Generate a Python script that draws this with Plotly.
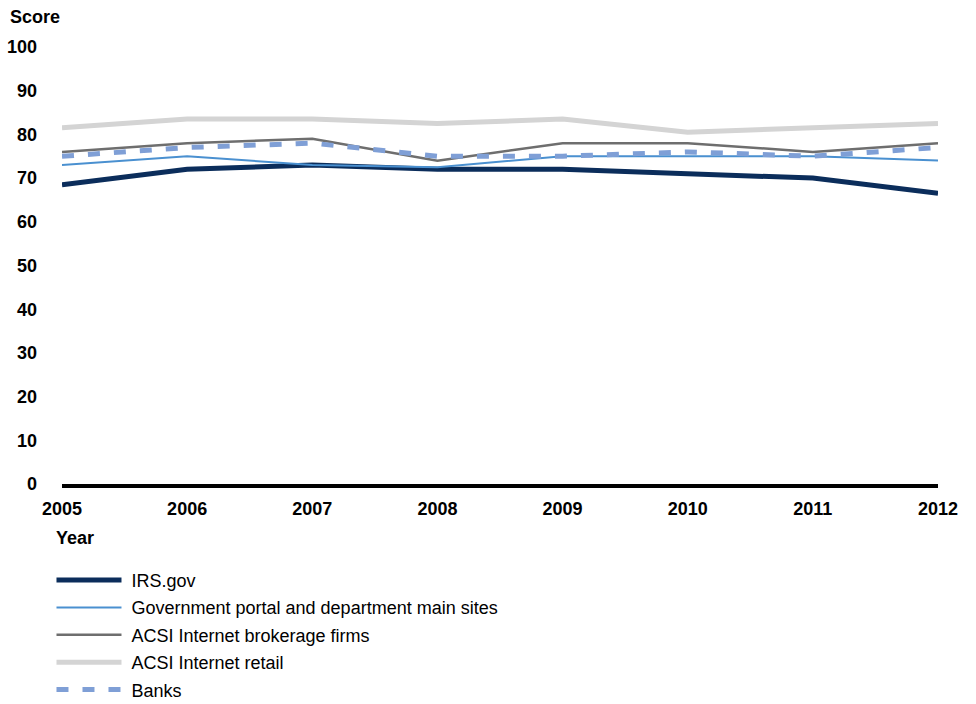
import plotly.graph_objects as go

years = [2005, 2006, 2007, 2008, 2009, 2010, 2011, 2012]
irs_gov = [68.5, 72, 73, 72, 72, 71, 70, 66.5]
gov_portal = [73, 75, 73, 72.5, 75, 75, 75, 74]
brokerage = [76, 78, 79, 74, 78, 78, 76, 78]
retail = [81.5, 83.5, 83.5, 82.5, 83.5, 80.5, 81.5, 82.5]
banks = [75, 77, 78, 75, 75, 76, 75, 77]

series = [
    ("IRS.gov", irs_gov, "#0b2d5b", 5, "solid"),
    ("Government portal and department main sites", gov_portal, "#4a90d0", 2, "solid"),
    ("ACSI Internet brokerage firms", brokerage, "#6e6e6e", 2.5, "solid"),
    ("ACSI Internet retail", retail, "#d4d4d4", 5, "solid"),
    ("Banks", banks, "#7f9fd6", 5, "12px,14px"),
]

W, H = 976, 704
L, R, T, B = 62, 38, 47, 220

fig = go.Figure()
for i, (name, vals, color, width, dash) in enumerate(series):
    fig.add_trace(go.Scatter(
        x=years, y=vals, mode="lines", name="&nbsp;" + name, legendgroup=f"g{i}",
        line=dict(color=color, width=width, dash=dash),
    ))

font = "Liberation Sans, Arial, sans-serif"
fig.update_layout(
    width=W, height=H,
    margin=dict(l=L, r=R, t=T, b=B, autoexpand=False),
    paper_bgcolor="white", plot_bgcolor="white",
    font=dict(family=font, size=18, color="black"),
    showlegend=True,
    legend=dict(
        x=-0.012, y=-0.178, xanchor="left", yanchor="top",
        orientation="v", tracegroupgap=1, itemwidth=65,
        font=dict(family=font, size=18, color="black"),
        bgcolor="rgba(0,0,0,0)",
    ),
    xaxis=dict(
        range=[2005, 2012], tickmode="array", tickvals=years,
        ticktext=[f"<b>{y}</b>" for y in years],
        showgrid=False, zeroline=False,
        showline=True, linecolor="black", linewidth=4,
        ticks="", ticklabelstandoff=5,
        tickfont=dict(family=font, size=18, color="black"),
    ),
    yaxis=dict(
        range=[0, 100], tickmode="array", tickvals=list(range(0, 101, 10)),
        ticktext=[f"<b>{v}</b>" for v in range(0, 101, 10)],
        showgrid=False, zeroline=False, showline=False, ticks="",
        ticklabelstandoff=24,
        tickfont=dict(family=font, size=18, color="black"),
    ),
    title=dict(
        text="<b>Score</b>", x=10 / W, y=1 - 17 / H, xanchor="left", yanchor="middle",
        xref="container", yref="container",
        font=dict(family=font, size=18, color="black"),
    ),
    annotations=[dict(
        text="<b>Year</b>", xref="paper", yref="paper",
        x=(54 - L) / (W - L - R), y=-(538 - 484) / (H - T - B),
        xanchor="left", yanchor="middle", showarrow=False,
        font=dict(family=font, size=18, color="black"),
    )],
)

fig.write_html("out.html")
